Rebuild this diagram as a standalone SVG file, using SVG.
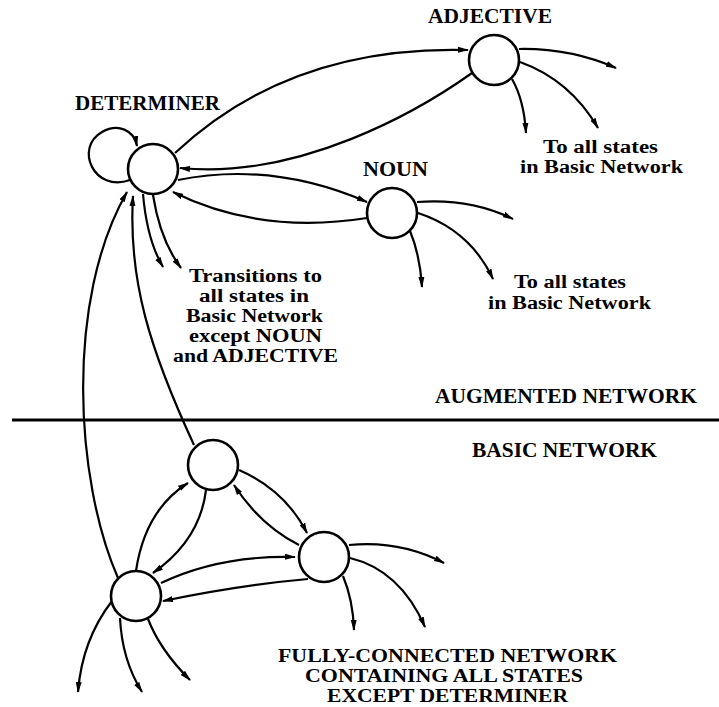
<svg xmlns="http://www.w3.org/2000/svg" width="719" height="707" viewBox="0 0 719 707">
  <style>
    .state { fill: #fff; stroke: #000; stroke-width: 2.6; }
    .edge { fill: none; stroke: #000; stroke-width: 2.2; marker-end: url(#arr); }
    .rule { stroke: #000; stroke-width: 2.8; }
    text { font-family: "Liberation Serif", "Times New Roman", serif; font-size: 20px; font-weight: bold; fill: #000; }
    .stack { font-size: 18px; }
  </style>
  <defs>
    <marker id="arr" viewBox="0 0 11 7" refX="10" refY="3.5" markerWidth="11" markerHeight="7" markerUnits="userSpaceOnUse" orient="auto">
      <path d="M0,0.5 L11,3.5 L0,6.5 z" fill="#000"/>
    </marker>
  </defs>

  <rect width="719" height="707" fill="#fff"/>

  <!-- divider between augmented and basic network -->
  <line class="rule" x1="12" y1="420" x2="719" y2="420"/>

  <g id="connectors">
    <!-- determiner self-loop -->
    <path class="edge" d="M130,180 C94,193 74,148 102,132 C118,123 134,130 137,146"/>
    <!-- determiner <-> adjective -->
    <path class="edge" d="M175,153 Q290,45 468,50"/>
    <path class="edge" d="M472,73 C420,110 300,180 180,168"/>
    <!-- determiner <-> noun -->
    <path class="edge" d="M178,180 Q272,161 367,202"/>
    <path class="edge" d="M367,218 Q260,235 173,192"/>
    <!-- determiner to rest of basic network -->
    <path class="edge" d="M143,194 Q147,240 163,267"/>
    <path class="edge" d="M153,195 Q160,240 181,268"/>
    <!-- basic network back to determiner -->
    <path class="edge" d="M118,578 C75,480 65,300 127,192"/>
    <path class="edge" d="M194,445 C150,350 128,280 133,196"/>
    <!-- adjective outputs -->
    <path class="edge" d="M519,49 Q570,48 616,68"/>
    <path class="edge" d="M520,62 Q570,80 598,128"/>
    <path class="edge" d="M512,79 Q524,100 526,133"/>
    <!-- noun outputs -->
    <path class="edge" d="M417,202 Q470,198 513,219"/>
    <path class="edge" d="M418,213 Q470,230 493,279"/>
    <path class="edge" d="M410,231 Q420,255 422,287"/>
    <!-- basic network internal transitions -->
    <path class="edge" d="M239,470 Q285,490 307,533"/>
    <path class="edge" d="M299,545 Q260,525 234,485"/>
    <path class="edge" d="M136,571 Q145,510 188,483"/>
    <path class="edge" d="M206,490 Q200,540 153,573"/>
    <path class="edge" d="M161,583 Q220,555 295,557"/>
    <path class="edge" d="M308,579 Q240,585 163,601"/>
    <!-- right basic state outputs -->
    <path class="edge" d="M349,545 Q400,540 444,563"/>
    <path class="edge" d="M350,558 Q400,570 425,627"/>
    <path class="edge" d="M343,576 Q353,600 354,630"/>
    <!-- left basic state outputs -->
    <path class="edge" d="M112,601 Q82,640 78,692"/>
    <path class="edge" d="M120,618 Q122,660 142,692"/>
    <path class="edge" d="M148,619 Q160,650 190,680"/>
  </g>

  <g id="determiner">
    <circle class="state" cx="153" cy="169" r="25"/>
    <text x="75" y="110" textLength="145" lengthAdjust="spacingAndGlyphs">DETERMINER</text>
  </g>
  <g id="adjective">
    <circle class="state" cx="494" cy="60" r="25"/>
    <text x="428" y="23" textLength="124" lengthAdjust="spacingAndGlyphs">ADJECTIVE</text>
  </g>
  <g id="noun">
    <circle class="state" cx="392" cy="213" r="25"/>
    <text x="363" y="176" textLength="65" lengthAdjust="spacingAndGlyphs">NOUN</text>
  </g>
  <g id="basic-top">
    <circle class="state" cx="213" cy="465" r="25"/>
  </g>
  <g id="basic-right">
    <circle class="state" cx="324" cy="557" r="25"/>
  </g>
  <g id="basic-left">
    <circle class="state" cx="136" cy="596" r="25"/>
  </g>

  <g id="labels">
    <text class="stack" x="543" y="153" textLength="115" lengthAdjust="spacingAndGlyphs">To all states</text>
    <text class="stack" x="520" y="173" textLength="163" lengthAdjust="spacingAndGlyphs">in Basic Network</text>

    <text class="stack" x="514" y="288" textLength="112" lengthAdjust="spacingAndGlyphs">To all states</text>
    <text class="stack" x="488" y="309" textLength="163" lengthAdjust="spacingAndGlyphs">in Basic Network</text>

    <text class="stack" x="189" y="282" textLength="133" lengthAdjust="spacingAndGlyphs">Transitions to</text>
    <text class="stack" x="199" y="302" textLength="110" lengthAdjust="spacingAndGlyphs">all states in</text>
    <text class="stack" x="186" y="322" textLength="137" lengthAdjust="spacingAndGlyphs">Basic Network</text>
    <text class="stack" x="189" y="342" textLength="133" lengthAdjust="spacingAndGlyphs">except NOUN</text>
    <text class="stack" x="173" y="362" textLength="165" lengthAdjust="spacingAndGlyphs">and ADJECTIVE</text>

    <text x="435" y="403" textLength="262" lengthAdjust="spacingAndGlyphs">AUGMENTED NETWORK</text>
    <text x="472" y="457" textLength="185" lengthAdjust="spacingAndGlyphs">BASIC NETWORK</text>

    <text class="stack" x="278" y="662" textLength="339" lengthAdjust="spacingAndGlyphs">FULLY-CONNECTED NETWORK</text>
    <text class="stack" x="305" y="682" textLength="278" lengthAdjust="spacingAndGlyphs">CONTAINING ALL STATES</text>
    <text class="stack" x="327" y="702" textLength="241" lengthAdjust="spacingAndGlyphs">EXCEPT DETERMINER</text>
  </g>
</svg>
